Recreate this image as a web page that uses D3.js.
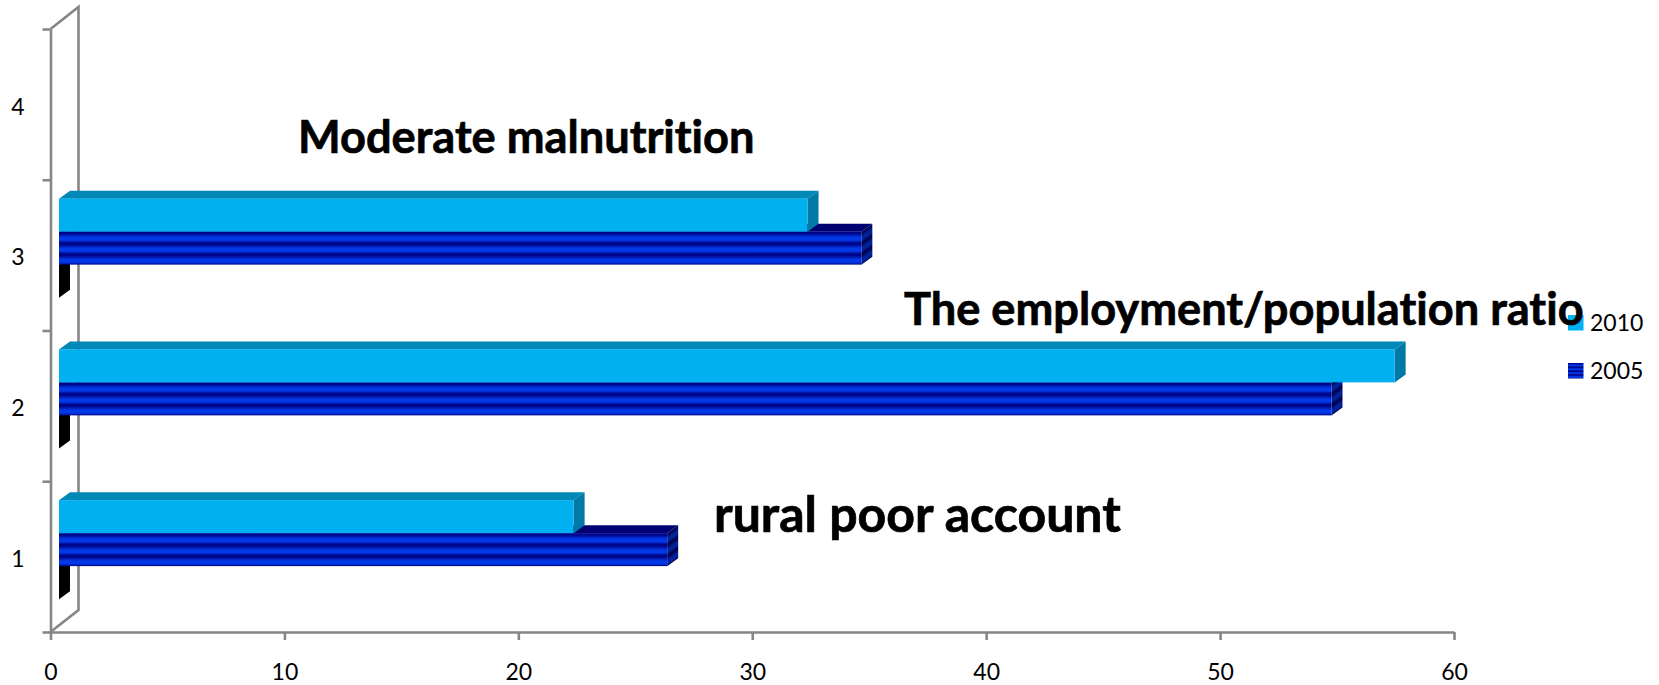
<!DOCTYPE html>
<html>
<head>
<meta charset="utf-8">
<script src="https://cdn.jsdelivr.net/npm/d3@7"></script>
<style>
html, body { margin: 0; padding: 0; background: #fff; overflow: hidden; }
svg { display: block; }
text { font-family: Lato, "Open Sans", sans-serif; fill: #000; font-variant-ligatures: none; }
</style>
</head>
<body>
<svg width="1659" height="685"></svg>
<script>
var categories = ["1", "2", "3", "4"];
var seriesNames = ["2010", "2005", ""];
var values2010 = [22.0, 57.1, 32.0];
var values2005 = [26.0, 54.4, 34.3];
var valuesBlank = [0, 0, 0];
var xTicks = [0, 10, 20, 30, 40, 50, 60];
var noteTexts = ["rural poor account", "The employment/population ratio", "Moderate malnutrition"];

var svg = d3.select("svg");
var depthX = 11, depthY = 8;
var wallX = 28, wallY = 22;
var darkBlue = "#00068c", lightBlue = "#0238e6";

var x = d3.scaleLinear().domain([0, 60]).range([50.5, 1454]);
var y = d3.scaleBand().domain(categories).range([632, 29]);
var yTicks = d3.scaleLinear().domain([0, 4]).range([632, 29]);
var inner = d3.scaleBand().domain(seriesNames).range([0, 99]);

var defs = svg.append("defs");

function addStops(g, dark, light) {
    g.append("stop").attr("offset", "0%").attr("stop-color", dark);
    g.append("stop").attr("offset", "18%").attr("stop-color", dark);
    g.append("stop").attr("offset", "52%").attr("stop-color", light);
    g.append("stop").attr("offset", "78%").attr("stop-color", light);
    g.append("stop").attr("offset", "100%").attr("stop-color", dark);
}

// stripes follow the box of each shape: 3 bands on a bar, 4 on the legend key
function stripes(id, bands) {
    var g = defs.append("linearGradient")
        .attr("id", id)
        .attr("spreadMethod", "repeat")
        .attr("x1", 0).attr("x2", 0)
        .attr("y1", 0).attr("y2", 1 / bands);
    addStops(g, darkBlue, lightBlue);
}
stripes("stripeFront", 3);
stripes("stripeKey", 4);

var sideCount = 0;
// side face stripes run along the depth slope, so they start from the bar end
function sideStripes(x1, y0) {
    var id = "stripeSide" + (sideCount++);
    var g = defs.append("linearGradient")
        .attr("id", id)
        .attr("gradientUnits", "userSpaceOnUse")
        .attr("spreadMethod", "repeat")
        .attr("x1", x1).attr("y1", y0)
        .attr("x2", x1 + 5.23).attr("y2", y0 + 7.19);
    addStops(g, "#000455", "#02229a");
    return "url(#" + id + ")";
}

var seriesStyle = {
    "2010": {front: "#00b0f0", top: "#0088b6", side: "#0079a6"},
    "2005": {front: "url(#stripeFront)", top: "#000073", striped: true},
    "": {front: "#000", top: "#000", side: "#000"}
};

// back wall of the 3d plot
var wallLine = d3.line();
svg.append("path")
    .attr("d", wallLine([
        [x(0), yTicks(0)], [x(0) + wallX, yTicks(0) - wallY],
        [x(0) + wallX, yTicks(4) - wallY], [x(0), yTicks(4)]
    ]))
    .attr("fill", "none").attr("stroke", "#868686").attr("stroke-width", 2.6);

// axes
var xAxis = svg.append("g")
    .attr("transform", "translate(0," + yTicks(0) + ")")
    .call(d3.axisBottom(x).tickValues(xTicks).tickSize(8).tickSizeOuter(0).tickFormat(d3.format("d")));
xAxis.selectAll("text").attr("y", 32).attr("dy", "0.7em").style("font-size", "23px");

var yAxis = svg.append("g")
    .attr("transform", "translate(" + x(0) + ",0)")
    .call(d3.axisLeft(yTicks).ticks(4).tickSize(8).tickSizeOuter(0).tickFormat(""));

svg.selectAll(".domain, .tick line").attr("stroke", "#868686").attr("stroke-width", 2.6);

svg.append("g").selectAll("text").data(categories).enter().append("text")
    .attr("x", 18)
    .attr("y", function(d) { return y(d) + y.bandwidth() / 2 + 2; })
    .attr("dy", "0.36em")
    .attr("text-anchor", "middle")
    .style("font-size", "23px")
    .text(function(d) { return d; });

// bars, back series first so the upper bar covers the top of the lower one
var rows = [
    {name: "", values: valuesBlank},
    {name: "2005", values: values2005},
    {name: "2010", values: values2010}
];

function box(g, x0, x1, y0, y1, st) {
    var pts = function(a) { return a.map(function(p) { return p.join(","); }).join(" "); };
    g.append("polygon")
        .attr("points", pts([[x0, y0], [x0 + depthX, y0 - depthY], [x1 + depthX, y0 - depthY], [x1, y0]]))
        .attr("fill", st.top);
    g.append("polygon")
        .attr("points", pts([[x1, y0], [x1 + depthX, y0 - depthY], [x1 + depthX, y1 - depthY], [x1, y1]]))
        .attr("fill", st.striped ? sideStripes(x1, y0) : st.side);
    if (x1 > x0) {
        g.append("rect").attr("x", x0).attr("y", y0)
            .attr("width", x1 - x0).attr("height", y1 - y0)
            .attr("fill", st.front);
    }
}

var barLayer = svg.append("g");
var x0 = x(0) + 8.5;
[0, 1, 2].forEach(function(ci) {
    rows.forEach(function(r) {
        var top = y(categories[ci]) + (y.bandwidth() - 99) / 2 - 7 + inner(r.name);
        box(barLayer, x0, x0 + x(r.values[ci]) - x(0), top, top + inner.bandwidth(), seriesStyle[r.name]);
    });
});

// legend
var legendNames = ["2010", "2005"];
var legendY = d3.scalePoint().domain(legendNames).range([323, 371]);
var legend = svg.append("g").selectAll("g").data(legendNames).enter().append("g");
legend.append("rect")
    .attr("x", 1568).attr("width", 15.5).attr("height", 15.5)
    .attr("y", function(d) { return legendY(d) - 8; })
    .attr("fill", function(d) { return d === "2005" ? "url(#stripeKey)" : seriesStyle[d].front; });
legend.append("text")
    .attr("x", 1590)
    .attr("y", function(d) { return legendY(d); })
    .attr("dy", "0.36em")
    .style("font-size", "23px")
    .text(function(d) { return d; });

// big notes drawn over everything
var noteX = [714, 904, 298];
var noteY = [514, 309, 137];
var noteSize = [50, 45.2, 45.2];
svg.append("g").selectAll("text").data(noteTexts).enter().append("text")
    .attr("x", function(d, i) { return noteX[i]; })
    .attr("y", function(d, i) { return noteY[i]; })
    .attr("dy", "0.36em")
    .style("font-size", function(d, i) { return noteSize[i] + "px"; })
    .style("font-weight", "700")
    .style("stroke", "#000")
    .style("stroke-width", "0.7px")
    .text(function(d) { return d; });
</script>
</body>
</html>
